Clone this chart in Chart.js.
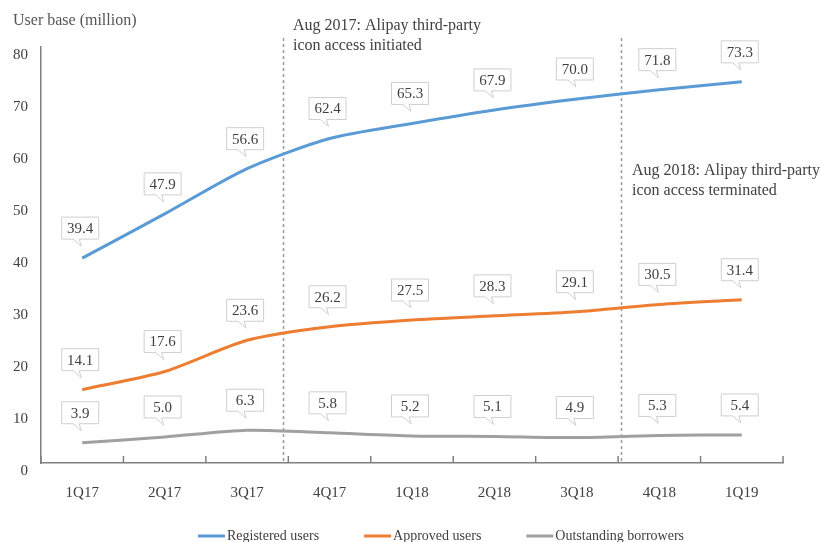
<!DOCTYPE html>
<html>
<head>
<meta charset="utf-8">
<script src="https://cdn.jsdelivr.net/npm/chart.js@4"></script>
<style>
  html, body { margin: 0; padding: 0; background: #fff; overflow: hidden; }
  #wrap { width: 822px; height: 542px; position: relative; }
</style>
</head>
<body>
<div id="wrap"><canvas id="userChart"></canvas></div>
<script>
// --- chart data ---
const quarters = ['1Q17', '2Q17', '3Q17', '4Q17', '1Q18', '2Q18', '3Q18', '4Q18', '1Q19'];
const registeredUsers = [39.4, 47.9, 56.6, 62.4, 65.3, 67.9, 70.0, 71.8, 73.3];
const approvedUsers = [14.1, 17.6, 23.6, 26.2, 27.5, 28.3, 29.1, 30.5, 31.4];
const outstandingBorrowers = [3.9, 5.0, 6.3, 5.8, 5.2, 5.1, 4.9, 5.3, 5.4];
const yTicks = [0, 10, 20, 30, 40, 50, 60, 70, 80];

// event markers (position on the quarter axis, Aug 2017 / Aug 2018)
const eventAt = [2.43, 6.53];
const eventText = [
    ['Aug 2017: Alipay third-party', 'icon access initiated'],
    ['Aug 2018: Alipay third-party', 'icon access terminated']
];

const SERIF = '"Liberation Serif", "DejaVu Serif", serif';
const colors = ['#5b9bd5', '#ed7d31', '#a0a0a0'];

// --- 그리기 플러그인 ---
const decorPlugin = {
    id: 'decor',
    beforeDatasetsDraw(chart) {
        const { ctx, scales: { x, y } } = chart;
        ctx.save();
        // 점선 이벤트 라인
        ctx.strokeStyle = '#9a9a9a';
        ctx.lineWidth = 1.5;
        ctx.setLineDash([3, 3]);
        eventAt.forEach(v => {
            const px = Math.round(x.getPixelForValue(v)) + 0.5;
            ctx.beginPath();
            ctx.moveTo(px, 38);
            ctx.lineTo(px, y.getPixelForValue(0));
            ctx.stroke();
        });
        ctx.setLineDash([]);

        // x축 안쪽 눈금
        const base = y.getPixelForValue(0);
        ctx.strokeStyle = '#7f7f7f';
        ctx.lineWidth = 1.5;
        for (let i = 0; i <= quarters.length; i++) {
            const px = x.getPixelForValue(i - 0.5);
            ctx.beginPath();
            ctx.moveTo(px, base);
            ctx.lineTo(px, base - 7);
            ctx.stroke();
        }
        ctx.restore();
    },
    afterDatasetsDraw(chart) {
        const { ctx } = chart;
        ctx.save();
        ctx.font = '15px ' + SERIF;
        ctx.textAlign = 'center';
        ctx.textBaseline = 'middle';
        chart.data.datasets.forEach((ds, di) => {
            const meta = chart.getDatasetMeta(di);
            meta.data.forEach((pt, i) => {
                const cx = pt.x - 2, cy = pt.y - 30;
                const w = 37, h = 22;
                const l = cx - w / 2, t = cy - h / 2, r = l + w, b = t + h;
                ctx.beginPath();
                ctx.moveTo(l, t);
                ctx.lineTo(r, t);
                ctx.lineTo(r, b);
                ctx.lineTo(cx - 1, b);
                ctx.lineTo(cx + 1, b + 7);
                ctx.lineTo(cx - 7, b);
                ctx.lineTo(l, b);
                ctx.closePath();
                ctx.fillStyle = '#ffffff';
                ctx.fill();
                ctx.strokeStyle = '#cfcfcf';
                ctx.lineWidth = 1;
                ctx.stroke();
                ctx.fillStyle = '#404040';
                ctx.fillText(ds.data[i].toFixed(1), cx, cy + 1);
            });
        });
        ctx.restore();
    },
    afterDraw(chart) {
        const { ctx } = chart;
        ctx.save();
        ctx.textBaseline = 'middle';
        ctx.textAlign = 'left';
        // 축 제목
        ctx.font = '16px ' + SERIF;
        ctx.fillStyle = '#555555';
        ctx.fillText('User base (million)', 13, 21);

        // 이벤트 설명
        ctx.fillStyle = '#404040';
        const textPos = [[293, 26], [632, 171]];
        eventText.forEach((lines, k) => {
            lines.forEach((s, j) => ctx.fillText(s, textPos[k][0], textPos[k][1] + j * 20));
        });

        // 범례
        ctx.font = '14px ' + SERIF;
        const sw = 27, gap = 2, spacing = 45;
        const names = chart.data.datasets.map(d => d.label);
        const widths = names.map(n => sw + gap + ctx.measureText(n).width);
        const total = widths.reduce((a, b) => a + b, 0) + spacing * (names.length - 1);
        let lx = 441 - total / 2;
        const ly = 536;
        names.forEach((n, i) => {
            ctx.strokeStyle = colors[i];
            ctx.lineWidth = 3;
            ctx.beginPath();
            ctx.moveTo(lx, ly);
            ctx.lineTo(lx + sw, ly);
            ctx.stroke();
            ctx.fillStyle = '#404040';
            ctx.fillText(n, lx + sw + gap, ly);
            lx += widths[i] + spacing;
        });
        ctx.restore();
    }
};

const seriesNames = ['Registered users', 'Approved users', 'Outstanding borrowers'];
const seriesData = [registeredUsers, approvedUsers, outstandingBorrowers];

const ctx = document.getElementById('userChart').getContext('2d');
const userChart = new Chart(ctx, {
    type: 'line',
    data: {
        labels: quarters,
        datasets: seriesData.map((d, i) => ({
            label: seriesNames[i],
            data: d,
            borderColor: colors[i],
            backgroundColor: colors[i],
            borderWidth: 3,
            pointRadius: 0,
            tension: 0.25,
            fill: false
        }))
    },
    options: {
        responsive: true,
        maintainAspectRatio: false,
        animation: false,
        layout: { padding: { top: 47, right: 39, left: 0, bottom: 0 } },
        scales: {
            x: {
                offset: true,
                grid: { display: false, drawTicks: false },
                border: { display: true, color: '#7f7f7f', width: 1.5 },
                ticks: {
                    padding: 21,
                    color: '#404040',
                    font: { family: SERIF, size: 15 }
                },
                afterFit: (s) => { s.height = 79; }
            },
            y: {
                min: 0,
                max: 80,
                afterBuildTicks: (s) => { s.ticks = yTicks.map(v => ({ value: v })); },
                grid: { display: false, drawTicks: false },
                border: { display: true, color: '#7f7f7f', width: 1.5 },
                ticks: {
                    padding: 13,
                    labelOffset: 8,
                    color: '#404040',
                    font: { family: SERIF, size: 15 }
                },
                afterFit: (s) => { s.width = 41; }
            }
        },
        plugins: {
            legend: { display: false },
            tooltip: { enabled: false }
        }
    },
    plugins: [decorPlugin]
});
</script>
</body>
</html>
